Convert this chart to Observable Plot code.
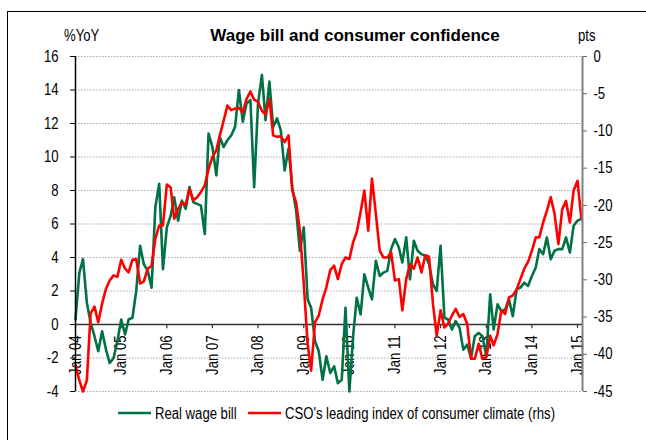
<!DOCTYPE html>
<html><head><meta charset="utf-8">
<script src="https://cdn.jsdelivr.net/npm/d3@7"></script>
<script src="https://cdn.jsdelivr.net/npm/@observablehq/plot@0.6"></script>
<style>
body{margin:0;background:#fff;}
#chart{width:646px;height:440px;}
</style></head><body><div id="chart"></div>
<script>
// Monthly data, Jan 2004 .. Feb 2015
const wageBill = [
 0.3, 3.1, 3.9, 1.3, 0.1, -0.7, -1.6, -0.4, -1.5, -2.3, -2.0, -1.0,
 0.3, -0.6, 0.3, 0.4, 2.0, 4.7, 3.6, 3.2, 2.2, 7.0, 8.4, 3.3,
 5.8, 6.5, 7.6, 6.2, 7.4, 6.9, 8.2, 7.3, 7.2, 7.1, 5.4, 11.4,
 10.6, 8.9, 11.2, 10.6, 11.0, 11.3, 11.8, 14.0, 12.1, 13.2, 13.4, 8.2,
 13.2, 14.9, 12.2, 14.5, 11.8, 12.3, 11.6, 9.2, 10.5, 8.2, 6.8, 4.4,
 5.8, 1.5, 1.0, -1.0, -1.6, -3.3, -1.9, -2.9, -2.5, -3.5, -3.3, 1.0,
 -4.0, -0.6, 1.6, 0.6, 3.0, 2.2, 1.5, 3.8, 2.9, 3.1, 3.2, 4.5,
 5.1, 4.6, 3.7, 5.2, 2.7, 5.0, 4.4, 4.2, 4.1, 3.6, 2.4, 2.0,
 4.7, 0.4, 0.3, -0.3, 0.2, -0.2, -1.5, -1.2, -2.0, -0.7, -0.5, -0.7,
 -1.9, 1.8, -0.3, 1.2, 0.8, 0.9, 1.5, 0.5, 2.1, 2.2, 2.5, 2.3,
 2.9, 3.4, 4.5, 4.2, 5.2, 3.9, 4.4, 4.5, 4.5, 5.2, 4.3, 5.9,
 6.2, 6.3
];
const consumerClimate = [
 -41.5, -43.5, -45, -43.5, -34.5, -33.6, -35.7, -33.2, -31.2, -30.1, -29.4, -29.6,
 -27.3, -28.5, -29, -27.3, -27.2, -30.5, -30.2, -28.5, -28.1, -24.5, -22.7, -22.7,
 -17.2, -17.6, -21.8, -20.5, -19.6, -19.9, -17.8, -19.3, -18.9, -18.2, -17.3, -15.1,
 -13.5, -12.6, -10.6, -8.6, -6.6, -7.2, -7.0, -6.9, -7.5, -5.7, -4.7, -5.8,
 -6.1, -7.3, -7.8, -5.7, -10.6, -10.8, -10.7, -11.5, -10.6, -18.0, -19.6, -23.4,
 -30.5, -38.6, -42.2, -35.7, -34.8, -32.6, -31.0, -28.7, -28.1, -29.9, -27.9, -27.0,
 -27.2, -24.9, -23.6, -20.9, -18.0, -23.4, -16.4, -21.1, -26.1, -27.0, -27.0, -26.3,
 -30.1, -29.9, -34.1, -29.9, -27.9, -28.5, -27.0, -29.0, -26.7, -26.9, -33.2, -37.5,
 -34.1, -36.4, -35.9, -34.8, -33.9, -35.0, -34.6, -35.9, -40.6, -40.6, -38.6, -40.6,
 -40.4, -37.5, -38.8, -37.3, -34.1, -34.6, -32.4, -32.1, -31.3, -29.9, -28.5, -27.6,
 -26.1, -24.3, -24.3, -22.3, -20.7, -18.9, -21.1, -25.2, -20.5, -19.4, -22.3, -18.0,
 -16.7, -21.8
];
const leftTicks = [-4, -2, 0, 2, 4, 6, 8, 10, 12, 14, 16];
const rightTicks = [0, -5, -10, -15, -20, -25, -30, -35, -40, -45];
const yearLabels = ["Jan 04","Jan 05","Jan 06","Jan 07","Jan 08","Jan 09","Jan 10","Jan 11","Jan 12","Jan 13","Jan 14","Jan 15"];
const seriesNames = ["Real wage bill", "CSO's leading index of consumer climate (rhs)"];
const titleText = "Wage bill and consumer confidence";

const GREEN = "#007244", RED = "#ff0000";
const start = new Date(Date.UTC(2004, 0, 1));
const end = new Date(Date.UTC(2015, 1, 10));
const data = wageBill.map((w, i) => ({date: d3.utcMonth.offset(start, i), wage: w, cc: consumerClimate[i]}));
const years = yearLabels.map((l, i) => ({date: new Date(Date.UTC(2004 + i, 0, 1)), label: l}));
// right (pts) axis mapped onto left (%YoY) scale: 0 -> 16, -45 -> -4
const toLeft = r => 16 + r * 20 / 45;
const fromLeft = v => Math.round((v - 16) * 45 / 20);
const FONT = "'Liberation Sans',Arial,sans-serif";
const SQUEEZE = 0.82; // emulate the narrow font of the original

const chart = Plot.plot({
  width: 646, height: 440,
  marginLeft: 75, marginRight: 64, marginTop: 56, marginBottom: 49,
  style: {fontFamily: FONT, fontSize: "16px", color: "#000", background: "#fff"},
  x: {type: "utc", domain: [start, end], axis: null},
  y: {domain: [-4, 16], axis: null},
  marks: [
    Plot.gridY(leftTicks, {stroke: "#aaa", strokeOpacity: 1, strokeDasharray: "1.5,1.5"}),
    Plot.ruleY([0], {stroke: "#333", strokeWidth: 1.5}),
    Plot.ruleX(years, {x: "date", y1: 0, y2: -0.25, stroke: "#333", strokeWidth: 1.2}),
    Plot.text(years, {x: "date", y: 0, text: "label", rotate: -90, textAnchor: "end", lineAnchor: "middle", dy: 11, fontSize: 16, fill: "#000"}),
    Plot.line(data, {x: "date", y: "wage", stroke: GREEN, strokeWidth: 2.6}),
    Plot.line(data, {x: "date", y: d => toLeft(d.cc), stroke: RED, strokeWidth: 2.6}),
    Plot.axisY(leftTicks, {anchor: "left", tickSize: 5, tickPadding: 12, tickFormat: d => String(d), label: null, fontSize: 16}),
    Plot.ruleX([start], {stroke: "#000", strokeWidth: 1.5}),
    Plot.axisY(rightTicks.map(toLeft), {anchor: "right", tickSize: 4, tickPadding: 7, tickFormat: v => String(fromLeft(v)), label: null, stroke: "#666", fontSize: 16}),
    Plot.ruleX([end], {stroke: "#808080", strokeWidth: 2})
  ]
});

const svg = d3.select(chart);
// narrow the axis texts around their own anchor
svg.selectAll("text").each(function() {
  const t = this.getAttribute("transform");
  if (t) this.setAttribute("transform", t + ` scale(${SQUEEZE},1)`);
  else {
    const x = +this.getAttribute("x") || 0, y = +this.getAttribute("y") || 0;
    this.setAttribute("transform", `translate(${x},${y}) scale(${SQUEEZE},1) translate(${-x},${-y})`);
  }
});
// frame
svg.append("line").attr("x1", 7).attr("y1", 11.5).attr("x2", 646).attr("y2", 11.5).attr("stroke", "#000").attr("stroke-width", 1);
svg.append("line").attr("x1", 7.5).attr("y1", 11).attr("x2", 7.5).attr("y2", 440).attr("stroke", "#000").attr("stroke-width", 1);
const addText = (x, y, txt, opts = {}) => svg.append("text")
  .attr("transform", `translate(${x},${y}) scale(${opts.noSqueeze ? 1 : SQUEEZE},1)`)
  .attr("text-anchor", opts.anchor || "start")
  .attr("font-family", FONT).attr("font-size", opts.size || 16)
  .attr("font-weight", opts.weight || "normal").attr("fill", "#000").text(txt);
// title & unit labels
addText(355, 41, titleText, {anchor: "middle", weight: "bold", size: 17, noSqueeze: true});
addText(64, 41, "%YoY");
addText(578, 41, "pts");
// legend
const leg = [{x: 118, c: GREEN, t: seriesNames[0]}, {x: 248, c: RED, t: seriesNames[1]}];
leg.forEach(l => {
  svg.append("line").attr("x1", l.x).attr("x2", l.x + 33).attr("y1", 413).attr("y2", 413).attr("stroke", l.c).attr("stroke-width", 2.6);
  addText(l.x + 37, 419, l.t);
});
document.getElementById("chart").appendChild(chart);
</script></body></html>
